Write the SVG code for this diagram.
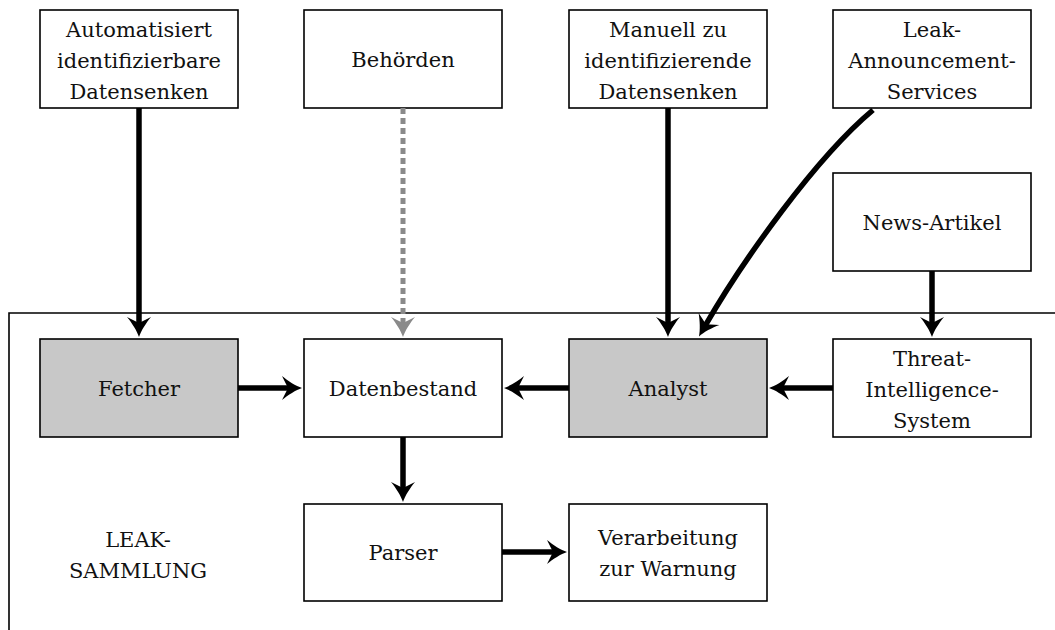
<svg xmlns="http://www.w3.org/2000/svg" width="1055" height="630" viewBox="0 0 1055 630">
  <style>
    .box { fill: #ffffff; stroke: #000000; stroke-width: 1.6; }
    .grey { fill: #c8c8c8; }
    .lbl { font-family: "DejaVu Serif", "Liberation Serif", serif; font-size: 21px; fill: #111111; text-anchor: middle; }
    .flow { fill: none; stroke: #000000; stroke-width: 5.5; }
    .weak { fill: none; stroke: #8a8a8a; stroke-width: 5; stroke-dasharray: 6 4; }
  </style>
  <defs>
    <marker id="head" markerUnits="userSpaceOnUse" markerWidth="30" markerHeight="30" viewBox="-10 -15 25 30" refX="0" refY="0" orient="auto" overflow="visible">
      <path d="M12,0 C6,-2 -2,-7 -8,-12 L-2,0 L-8,12 C-2,7 6,2 12,0 Z" fill="#000000"/>
    </marker>
    <marker id="headGrey" markerUnits="userSpaceOnUse" markerWidth="30" markerHeight="30" viewBox="-10 -15 25 30" refX="0" refY="0" orient="auto" overflow="visible">
      <path d="M12,0 C6,-2 -2,-7 -8,-12 L-2,0 L-8,12 C-2,7 6,2 12,0 Z" fill="#8a8a8a"/>
    </marker>
  </defs>

  <!-- collection area frame (open to the right and bottom) -->
  <g id="leak-sammlung">
    <path d="M9,630 L9,313 L1055,313" fill="none" stroke="#000000" stroke-width="1.6"/>
    <text class="lbl" x="138" y="547">LEAK-</text>
    <text class="lbl" x="138" y="578">SAMMLUNG</text>
  </g>

  <g id="automatisiert">
    <rect class="box" x="40" y="10" width="198" height="98"/>
    <text class="lbl" x="139" y="37">Automatisiert</text>
    <text class="lbl" x="139" y="68">identifizierbare</text>
    <text class="lbl" x="139" y="99">Datensenken</text>
  </g>
  <g id="behoerden">
    <rect class="box" x="304" y="10" width="198" height="98"/>
    <text class="lbl" x="403" y="67">Behörden</text>
  </g>
  <g id="manuell">
    <rect class="box" x="569" y="10" width="198" height="98"/>
    <text class="lbl" x="668" y="37">Manuell zu</text>
    <text class="lbl" x="668" y="68">identifizierende</text>
    <text class="lbl" x="668" y="99">Datensenken</text>
  </g>
  <g id="leak-announcement">
    <rect class="box" x="833" y="10" width="198" height="98"/>
    <text class="lbl" x="932" y="37">Leak-</text>
    <text class="lbl" x="932" y="68">Announcement-</text>
    <text class="lbl" x="932" y="99">Services</text>
  </g>
  <g id="news">
    <rect class="box" x="833" y="173" width="198" height="98"/>
    <text class="lbl" x="932" y="230">News-Artikel</text>
  </g>
  <g id="fetcher">
    <rect class="box grey" x="40" y="339" width="198" height="98"/>
    <text class="lbl" x="139" y="396">Fetcher</text>
  </g>
  <g id="datenbestand">
    <rect class="box" x="304" y="339" width="198" height="98"/>
    <text class="lbl" x="403" y="396">Datenbestand</text>
  </g>
  <g id="analyst">
    <rect class="box grey" x="569" y="339" width="198" height="98"/>
    <text class="lbl" x="668" y="396">Analyst</text>
  </g>
  <g id="threat-intel">
    <rect class="box" x="833" y="339" width="198" height="98"/>
    <text class="lbl" x="932" y="366">Threat-</text>
    <text class="lbl" x="932" y="397">Intelligence-</text>
    <text class="lbl" x="932" y="428">System</text>
  </g>
  <g id="parser">
    <rect class="box" x="304" y="504" width="198" height="97"/>
    <text class="lbl" x="403" y="560">Parser</text>
  </g>
  <g id="verarbeitung">
    <rect class="box" x="569" y="504" width="198" height="97"/>
    <text class="lbl" x="668" y="545">Verarbeitung</text>
    <text class="lbl" x="668" y="576">zur Warnung</text>
  </g>

  <g id="connectors">
    <line class="flow" x1="139" y1="108" x2="139" y2="325" marker-end="url(#head)"/>
    <line class="weak" x1="403" y1="108" x2="403" y2="325" marker-end="url(#headGrey)"/>
    <line class="flow" x1="668" y1="108" x2="668" y2="325" marker-end="url(#head)"/>
    <path class="flow" d="M873,110 C815.5,158 742.5,261 705,326" marker-end="url(#head)"/>
    <line class="flow" x1="932" y1="271" x2="932" y2="325" marker-end="url(#head)"/>
    <line class="flow" x1="238" y1="388" x2="290" y2="388" marker-end="url(#head)"/>
    <line class="flow" x1="569" y1="388" x2="516" y2="388" marker-end="url(#head)"/>
    <line class="flow" x1="833" y1="388" x2="781" y2="388" marker-end="url(#head)"/>
    <line class="flow" x1="403" y1="437" x2="403" y2="490" marker-end="url(#head)"/>
    <line class="flow" x1="502" y1="552" x2="555" y2="552" marker-end="url(#head)"/>
  </g>
</svg>
